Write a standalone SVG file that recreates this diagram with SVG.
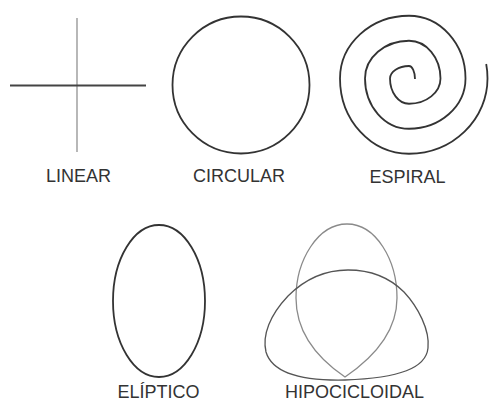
<svg xmlns="http://www.w3.org/2000/svg" width="489" height="403" viewBox="0 0 489 403">
<style>
.lbl{font-family:"Liberation Sans",Arial,sans-serif;font-size:18px;fill:#333;text-anchor:middle}
.shape{fill:none;stroke:#333;stroke-width:1.8}
</style>
<rect width="489" height="403" fill="#fff"/>
<g id="linear">
<line x1="77" y1="18" x2="77" y2="152" stroke="#888" stroke-width="1.2"/>
<line x1="10" y1="85.5" x2="146" y2="85.5" stroke="#444" stroke-width="2"/>
<text class="lbl" x="78.5" y="181.5">LINEAR</text>
</g>
<g id="circular">
<circle class="shape" cx="241" cy="85" r="68.5"/>
<text class="lbl" x="239" y="182">CIRCULAR</text>
</g>
<g id="espiral">
<path class="shape" stroke-width="2" d="M415,79 A6,13 0 0 0 409,66 A19,12.5 0 0 0 390,78.5 A19,25.25 0 0 0 409,103.75 A31.5,25.25 0 0 0 440.5,78.5 A31.5,37.75 0 0 0 409,40.75 A44,37.75 0 0 0 365,78.5 A44,50.25 0 0 0 409,128.75 A56.5,50.25 0 0 0 465.5,78.5 A56.5,62.75 0 0 0 409,15.75 A69,62.75 0 0 0 340,78.5 A69,75.25 0 0 0 409,153.75 A78.5,75.25 0 0 0 487.5,78.5 A78.5,75.25 0 0 0 486.2,64"/>
<text class="lbl" x="407.5" y="182.5">ESPIRAL</text>
</g>
<g id="eliptico">
<ellipse class="shape" cx="159" cy="301" rx="46" ry="76"/>
<text class="lbl" x="158.5" y="398">ELÍPTICO</text>
</g>
<g id="hipocicloidal">
<path fill="none" stroke="#8a8a8a" stroke-width="1.3" d="M345,377 C320,360 296,335 296,298 C296,260 318,224 347,224 C376,224 397,260 397,298 C397,335 370,360 345,377 Z"/>
<path fill="none" stroke="#555" stroke-width="1.3" d="M348,270 C372,270 390,278 404,292 C418,307 430,330 428,348 C426,368 400,378 345,380 C300,381 272,372 266,352 C262,335 270,315 288,296 C305,279 325,270 348,270 Z"/>
<text class="lbl" x="354.5" y="398">HIPOCICLOIDAL</text>
</g>
</svg>
